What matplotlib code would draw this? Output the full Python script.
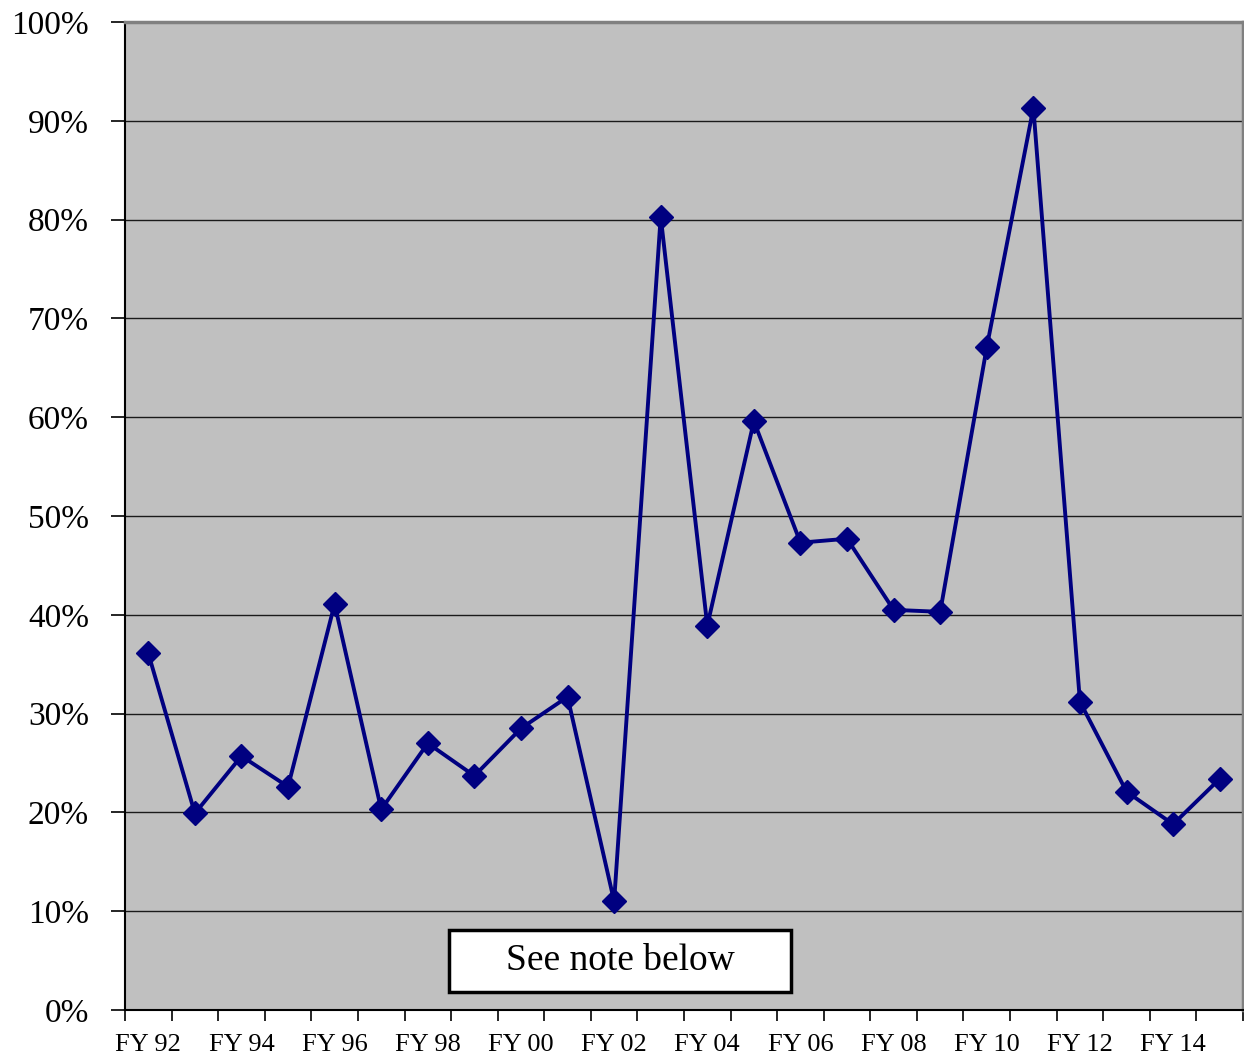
import matplotlib
matplotlib.use("Agg")
import matplotlib.pyplot as plt
from matplotlib.patches import Rectangle
from matplotlib.ticker import FixedLocator, FuncFormatter

# values (percent)
years = ["FY 92", "FY 93", "FY 94", "FY 95", "FY 96", "FY 97", "FY 98", "FY 99",
         "FY 00", "FY 01", "FY 02", "FY 03", "FY 04", "FY 05", "FY 06", "FY 07",
         "FY 08", "FY 09", "FY 10", "FY 11", "FY 12", "FY 13", "FY 14", "FY 15"]
values = [36.1, 19.9, 25.7, 22.6, 41.1, 20.3, 27.0, 23.7,
          28.5, 31.7, 11.0, 80.3, 38.9, 59.6, 47.3, 47.7,
          40.5, 40.3, 67.1, 91.3, 31.2, 22.1, 18.8, 23.4]
y_ticks = [0, 10, 20, 30, 40, 50, 60, 70, 80, 90, 100]

plt.rcParams['font.family'] = ['Liberation Serif', 'DejaVu Serif']

fig = plt.figure(figsize=(12.44, 10.59), dpi=100)
ax = fig.add_axes([125 / 1244, 49 / 1059, 1118 / 1244, 988 / 1059])
ax.set_facecolor('#C0C0C0')

x = list(range(len(years)))
ax.set_xlim(-0.5, len(years) - 0.5)
ax.set_ylim(0, 100)

# gridlines
for t in y_ticks[1:-1]:
    ax.axhline(t, color='#1a1a1a', linewidth=1.0, zorder=1)

ax.plot(x, values, color='#000080', linewidth=2.8, marker='D', markersize=12,
        markerfacecolor='#000080', markeredgecolor='#000080', zorder=3)

# spines
for side in ['top', 'right']:
    ax.spines[side].set_color('#808080')
    ax.spines[side].set_linewidth(2.5)
for side in ['left', 'bottom']:
    ax.spines[side].set_color('black')
    ax.spines[side].set_linewidth(1.5)

# y axis
ax.set_yticks(y_ticks)
ax.yaxis.set_major_formatter(FuncFormatter(lambda v, p: f"{int(v)}%"))
ax.tick_params(axis='y', direction='out', length=10, width=1.2, labelsize=24, pad=16)

# x axis: ticks on category boundaries, labels every other category
ax.xaxis.set_major_locator(FixedLocator([i - 0.5 for i in range(len(years) + 1)]))
ax.xaxis.set_major_formatter(FuncFormatter(lambda v, p: ""))
ax.xaxis.set_minor_locator(FixedLocator(x[::2]))
ax.set_xticklabels([years[i] for i in x[::2]], minor=True)
ax.tick_params(axis='x', which='major', direction='out', length=8, width=1.2)
ax.tick_params(axis='x', which='minor', length=0, labelsize=19, pad=17)

# note box
ax.add_patch(Rectangle((0.2898, 0.0182), 0.3059, 0.0628, transform=ax.transAxes,
                       facecolor='white', edgecolor='black', linewidth=2.5, zorder=4))
ax.text(0.4428, 0.0496, "See note below", transform=ax.transAxes, ha='center',
        va='center', fontsize=27, zorder=5)

fig.savefig("out.png", dpi=100)
